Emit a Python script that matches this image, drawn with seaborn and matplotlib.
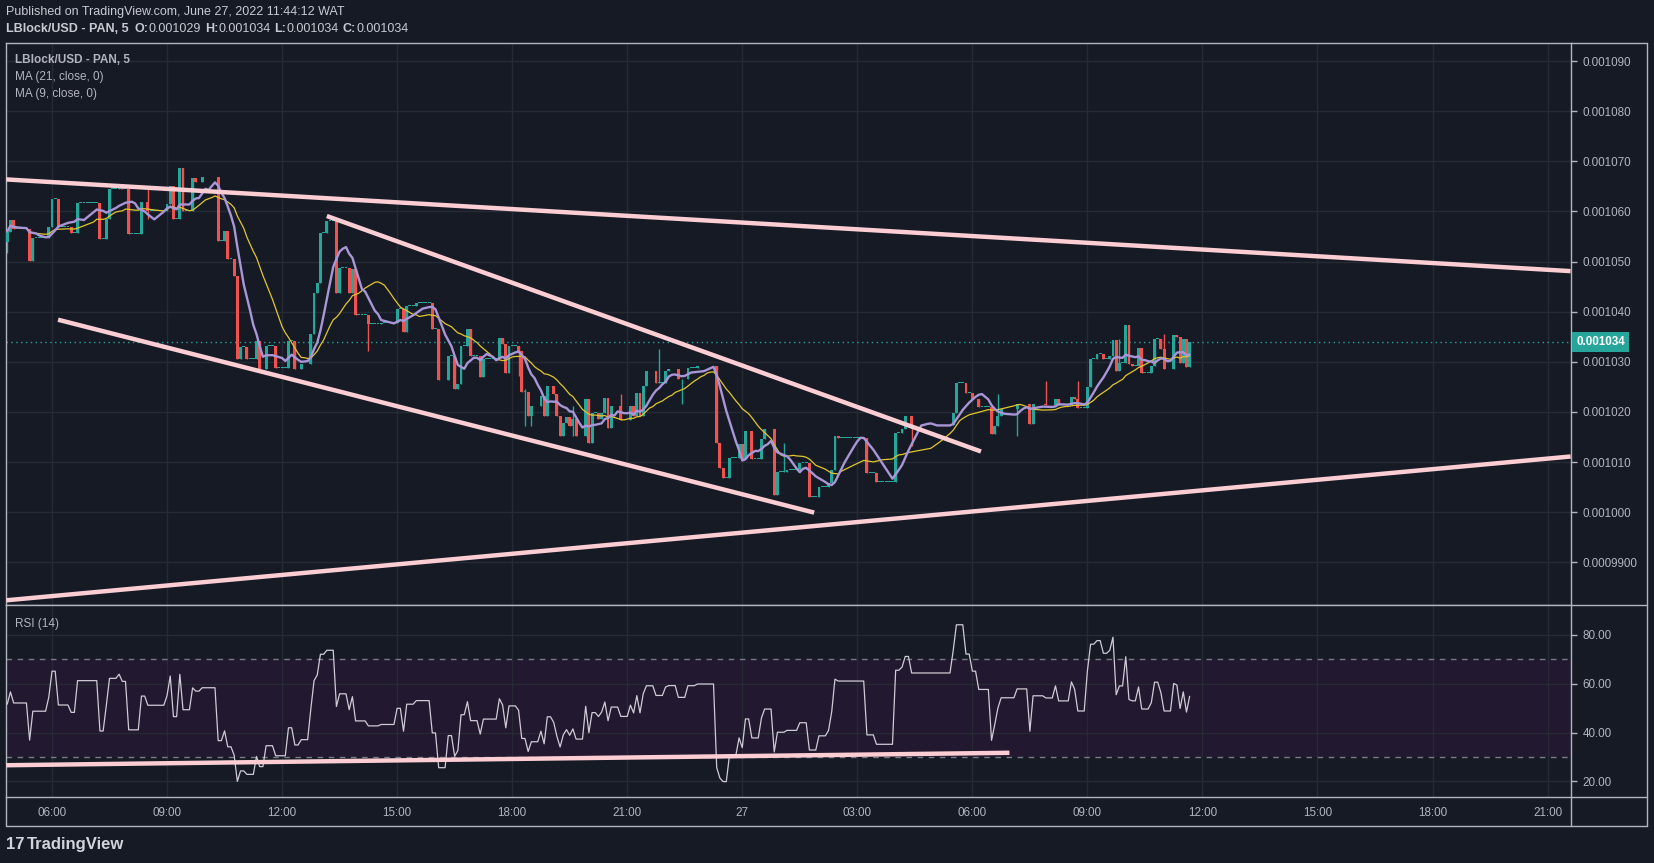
import numpy as np
import pandas as pd
import matplotlib
matplotlib.use('Agg')
import matplotlib.pyplot as plt
import seaborn as sns
from matplotlib.lines import Line2D

sns.set_style('dark')
plt.rcParams['font.family'] = ['Liberation Sans', 'DejaVu Sans']

# 5-min bars counted from 04:50 on June 26; prices in units of 1e-7 USD
# each entry: the bar where the close changed and the new close (price holds in between)
chg_bar = [0, 1, 2, 7, 8, 13, 14, 16, 20, 22, 29, 31, 32, 35, 36, 38, 42, 44, 50, 51,
           52, 54, 55, 58, 59, 61, 66, 68, 69, 71, 72, 73, 75, 78, 79, 81, 84, 88, 90, 92,
           95, 96, 97, 98, 100, 103, 104, 107, 108, 109, 113, 117, 122, 124, 125, 128, 133, 135, 138, 140,
           141, 142, 144, 145, 148, 149, 154, 155, 156, 157, 160, 161, 163, 164, 167, 168, 169, 171, 172, 173,
           174, 175, 176, 177, 178, 181, 182, 183, 185, 186, 187, 188, 189, 192, 195, 196, 197, 198, 199, 200,
           203, 206, 207, 210, 213, 216, 222, 223, 224, 226, 229, 230, 231, 233, 236, 237, 240, 241, 244, 248,
           251, 254, 257, 258, 259, 260, 269, 272, 278, 280, 281, 283, 296, 297, 300, 302, 304, 308, 309, 310,
           311, 316, 320, 321, 325, 328, 329, 333, 334, 335, 338, 339, 341, 343, 345, 346, 347, 348, 350, 351,
           352, 354, 355, 358, 359, 361, 362, 365, 366, 367, 368, 369, 370]
chg_close = [10560, 10583, 10565, 10501, 10548, 10570, 10625, 10570, 10558, 10617, 10546, 10585, 10645, 10655, 10645, 10555, 10618, 10601, 10615, 10650,
             10585, 10687, 10601, 10666, 10658, 10668, 10541, 10561, 10505, 10471, 10305, 10330, 10305, 10341, 10285, 10331, 10288, 10341, 10285, 10295,
             10355, 10437, 10458, 10558, 10581, 10438, 10488, 10438, 10485, 10393, 10375, 10378, 10405, 10359, 10411, 10418, 10365, 10263, 10312, 10245,
             10255, 10331, 10365, 10311, 10270, 10305, 10348, 10335, 10278, 10331, 10321, 10240, 10191, 10211, 10231, 10191, 10251, 10235, 10191, 10151,
             10178, 10190, 10171, 10185, 10151, 10225, 10138, 10198, 10185, 10198, 10228, 10168, 10211, 10183, 10211, 10191, 10238, 10191, 10251, 10281,
             10258, 10281, 10285, 10265, 10288, 10291, 10138, 10088, 10068, 10108, 10135, 10106, 10161, 10106, 10145, 10165, 10035, 10081, 10085, 10098,
             10031, 10051, 10058, 10085, 10151, 10148, 10078, 10061, 10158, 10165, 10191, 10173, 10198, 10258, 10238, 10225, 10210, 10155, 10171, 10191,
             10205, 10215, 10175, 10215, 10213, 10225, 10213, 10230, 10225, 10208, 10250, 10305, 10315, 10305, 10311, 10343, 10281, 10298, 10373, 10295,
             10292, 10327, 10278, 10292, 10345, 10325, 10285, 10353, 10350, 10298, 10345, 10290, 10340]
first_open = 10540
n_bars = 371

wick_bar = [0, 44, 113, 160, 162, 164, 177, 192, 204, 211, 243, 283, 310, 316, 325, 335, 348, 362]
wick_hi = [10565, 10651, 10393, 10331, 10245, 10211, 10211, 10235, 10325, 10265, 10138, 10191, 10235, 10215, 10261, 10261, 10345, 10355]
wick_lo = [10518, 10585, 10321, 10272, 10171, 10171, 10151, 10183, 10281, 10215, 10081, 10131, 10171, 10151, 10213, 10208, 10281, 10285]

# average gain / loss carried in from before the first visible bar (RSI ~46 at the left edge)
rsi_seed_gain = 7.0
rsi_seed_loss = 8.0

# hand-drawn lines on the chart (bar index, price)
trend_x = [[-0.3, 489.2], [-0.3, 489.2], [100.0, 304.7], [15.9, 252.5]]
trend_y = [[10664, 10481], [9824, 10111], [10591, 10121], [10384, 9999]]
rsi_trend_x = [-0.3, 313.6]
rsi_trend_y = [26.6, 31.7]

last_price = 10340
price_ticks = [10900, 10800, 10700, 10600, 10500, 10400, 10300, 10200, 10100, 10000, 9900]
price_labels = ['0.001090', '0.001080', '0.001070', '0.001060', '0.001050', '0.001040',
                '0.001030', '0.001020', '0.001010', '0.001000', '0.0009900']
time_ticks = [14, 50, 86, 122, 158, 194, 230, 266, 302, 338, 374, 410, 446, 482]
time_labels = ['06:00', '09:00', '12:00', '15:00', '18:00', '21:00', '27',
               '03:00', '06:00', '09:00', '12:00', '15:00', '18:00', '21:00']
rsi_ticks = [80, 60, 40, 20]
rsi_labels = ['80.00', '60.00', '40.00', '20.00']

# build the bars
close = pd.Series(np.nan, index=range(n_bars))
close[chg_bar] = chg_close
close = close.ffill()
open_ = close.shift(1).fillna(first_open)
high = np.maximum(open_, close)
low = np.minimum(open_, close)
for b, h, l in zip(wick_bar, wick_hi, wick_lo):
    high[b] = max(high[b], h)
    low[b] = min(low[b], l)

ma9 = close.rolling(9, min_periods=1).mean()
ma21 = close.rolling(21, min_periods=1).mean()

# Wilder RSI(14)
delta = (close - open_).values
ag, al = rsi_seed_gain, rsi_seed_loss
rsi = []
for d in delta:
    ag = (ag * 13 + max(d, 0)) / 14
    al = (al * 13 + max(-d, 0)) / 14
    rsi.append(100 - 100 / (1 + ag / al))
rsi = np.array(rsi)

# colours
bg = '#161a25'
grid_c = '#262a35'
frame_c = '#b2b5be'
text_c = '#b2b5be'
up_c = '#26a69a'
down_c = '#ef5350'
pink = '#fccdd3'

W, H = 1654, 863
fig = plt.figure(figsize=(W / 100, H / 100), dpi=100, facecolor=bg)
L, R, T, MB, RB = 6.3, 1570.6, 43, 605, 797
ax = fig.add_axes([L / W, 1 - MB / H, (R - L) / W, (MB - T) / H])
axr = fig.add_axes([L / W, 1 - RB / H, (R - L) / W, (RB - MB) / H], sharex=ax)

for a in (ax, axr):
    a.set_facecolor(bg)
    for s in a.spines.values():
        s.set_color(frame_c)
        s.set_linewidth(1)
    a.grid(True, color=grid_c, linewidth=1)
    a.set_axisbelow(True)

# candles
bars = np.arange(n_bars)
cols = np.where(close >= open_, up_c, down_c)
ax.vlines(bars, low, high, colors=cols, linewidth=1, zorder=2)
body_lo = np.minimum(open_, close)
body_h = np.maximum(np.abs(close - open_), 1.6)
ax.bar(bars, body_h, bottom=body_lo, width=0.9, color=cols, linewidth=0, zorder=3)

sns.lineplot(x=bars, y=ma21.values, ax=ax, color='#e2c62d', linewidth=0.9, zorder=4)
sns.lineplot(x=bars, y=ma9.values, ax=ax, color='#a996d6', linewidth=1.7, zorder=5)

for xs, ys in zip(trend_x, trend_y):
    ax.plot(xs, ys, color=pink, linewidth=3.2, solid_capstyle='butt', zorder=6)

ax.axhline(last_price, color=up_c, linestyle=(0, (1, 2.5)), linewidth=1, zorder=1)

ax.set_xlim(-0.3, 489.2)
ax.set_ylim(9814.6, 10936.3)
ax.set_xticks(time_ticks)
ax.tick_params(axis='x', length=0, labelbottom=False)
ax.yaxis.tick_right()
ax.set_yticks(price_ticks, price_labels)
ax.tick_params(axis='y', direction='out', length=4, width=1, color=frame_c,
               pad=4.5, labelsize=8.4, labelcolor=text_c)
ax.set_xlabel('')
ax.set_ylabel('')

ax.annotate('0.001034', xy=(1, last_price), xycoords=('axes fraction', 'data'),
            xytext=(4, 0), textcoords='offset points', ha='left', va='center',
            fontsize=8.4, fontweight='bold', color='white', annotation_clip=False,
            bbox=dict(boxstyle='square,pad=0.35', fc=up_c, ec='none'))

ax.text(0.0055, 1 - (60 - T) / (MB - T), 'LBlock/USD - PAN, 5', transform=ax.transAxes,
        fontsize=8.5, color=text_c, fontweight='bold', va='center')
ax.text(0.0055, 1 - (77 - T) / (MB - T), 'MA (21, close, 0)', transform=ax.transAxes,
        fontsize=8.5, color=text_c, va='center')
ax.text(0.0055, 1 - (94 - T) / (MB - T), 'MA (9, close, 0)', transform=ax.transAxes,
        fontsize=8.5, color=text_c, va='center')

# RSI pane
axr.axhspan(30, 70, color='#22182f', zorder=0, linewidth=0)
axr.axhline(70, color='#787b86', linewidth=1, linestyle=(0, (4, 4)), zorder=1)
axr.axhline(30, color='#787b86', linewidth=1, linestyle=(0, (4, 4)), zorder=1)
sns.lineplot(x=bars, y=rsi, ax=axr, color='#cfcbd6', linewidth=0.9, zorder=3)
axr.plot(rsi_trend_x, rsi_trend_y, color=pink, linewidth=3.2, solid_capstyle='butt', zorder=4)
axr.set_ylim(13.6, 92.2)
axr.yaxis.tick_right()
axr.set_yticks(rsi_ticks, rsi_labels)
axr.tick_params(axis='y', direction='out', length=4, width=1, color=frame_c,
                pad=4.5, labelsize=8.4, labelcolor=text_c)
axr.set_xticks(time_ticks, time_labels)
axr.tick_params(axis='x', direction='out', length=4, width=1, color=frame_c,
                pad=3, labelsize=8.4, labelcolor=text_c)
axr.set_xlabel('')
axr.set_ylabel('')
axr.text(0.0055, 1 - (623.5 - MB) / (RB - MB), 'RSI (14)', transform=axr.transAxes,
         fontsize=8.5, color=text_c, va='center')

# outer frame of the price and time scales
def fline(x0, y0, x1, y1):
    fig.add_artist(Line2D([x0 / W, x1 / W], [1 - y0 / H, 1 - y1 / H],
                          transform=fig.transFigure, color=frame_c, linewidth=1))

fline(R, T, 1647, T)
fline(1647, T, 1647, 826)
fline(L, 826, 1647, 826)
fline(L, RB, L, 826)
fline(R, MB, 1647, MB)
fline(R, RB, 1647, RB)
fline(R, RB, R, 826)

# header
hdr_c = '#c8cbd3'
fig.text(6 / W, 1 - 12 / H, 'Published on TradingView.com, June 27, 2022 11:44:12 WAT',
         fontsize=9.0, color=hdr_c, va='center', ha='left')
prev = fig.text(6 / W, 1 - 29.5 / H, 'LBlock/USD - PAN, 5', fontsize=9.0, color=hdr_c,
                fontweight='bold', va='center', ha='left')
parts = [('O:', 'bold', 4), ('0.001029', 'normal', 0), ('H:', 'bold', 3),
         ('0.001034', 'normal', 0), ('L:', 'bold', 3), ('0.001034', 'normal', 0),
         ('C:', 'bold', 3), ('0.001034', 'normal', 0)]
for s, wgt, gap in parts:
    prev = ax.annotate(s, xy=(1, 0), xycoords=prev, xytext=(gap, 0),
                       textcoords='offset points', va='bottom', ha='left',
                       fontsize=9.0, color=hdr_c, fontweight=wgt, annotation_clip=False)

logo = fig.text(6 / W, 1 - 844 / H, '17', fontsize=12, color='#d1d4dc',
                fontweight='heavy', va='center', ha='left')
ax.annotate('TradingView', xy=(1, 0), xycoords=logo, xytext=(2, 0),
            textcoords='offset points', va='bottom', ha='left', fontsize=12,
            color='#d1d4dc', fontweight='bold', annotation_clip=False)

fig.savefig('out.png', dpi=100, facecolor=bg)
